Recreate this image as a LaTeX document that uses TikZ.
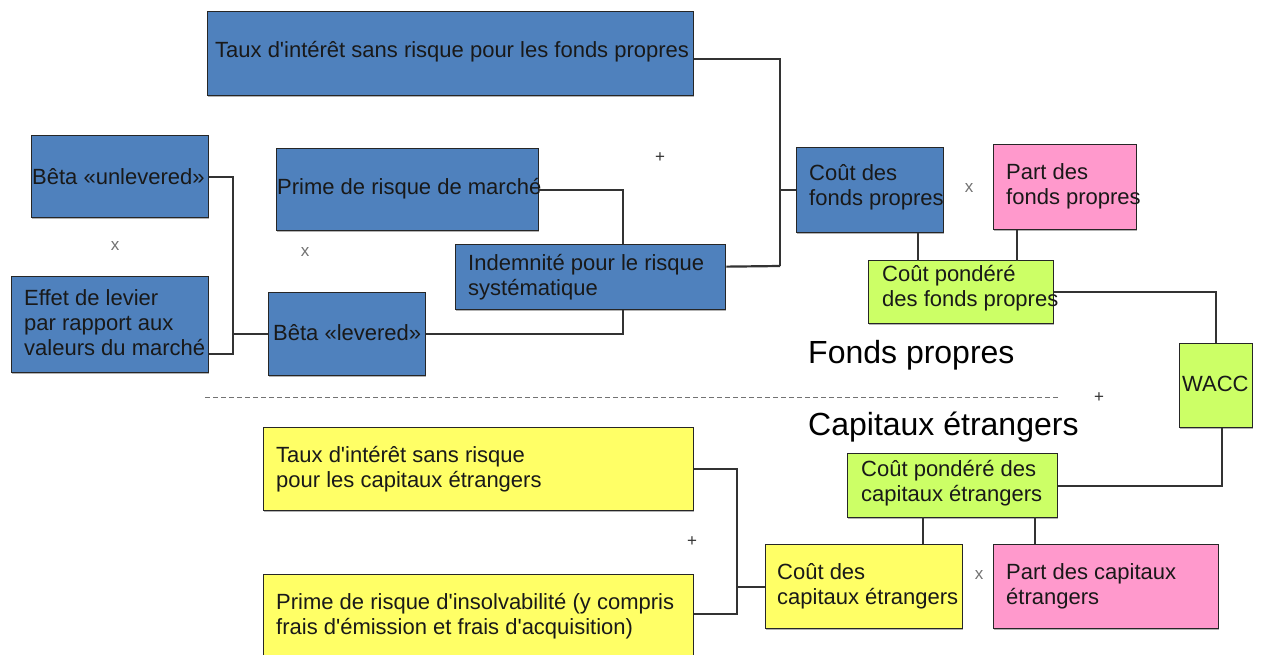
\documentclass[tikz,border=0pt]{standalone}
\usepackage{fontspec}
\setmainfont{Liberation Sans}
\usetikzlibrary{calc,shadows}
\definecolor{bblue}{HTML}{4F81BD}
\definecolor{bpink}{HTML}{FF99CC}
\definecolor{byellow}{HTML}{FFFF66}
\definecolor{bgreen}{HTML}{CCFF66}
\begin{document}
\begin{tikzpicture}[x=1pt,y=-1pt,
 box/.style={draw=black!85,line width=1.3pt,anchor=north west,inner sep=0pt,
   drop shadow={shadow xshift=0.8pt,shadow yshift=-1.5pt,fill=black!60}},
 txt/.style={anchor=west,inner sep=0pt,align=left,font=\fontsize{22}{25}\selectfont,text=black!90},
 conn/.style={draw=black!80,line width=2.2pt},
 op/.style={font=\fontsize{17}{17}\selectfont,text=black!55,inner sep=0pt},
 head/.style={font=\fontsize{32}{34}\selectfont,anchor=west,inner sep=0pt,text=black}]
\useasboundingbox[fill=white] (0,0) rectangle (1261,655);

% boxes
\node[box,fill=bblue,minimum width=486pt,minimum height=84pt] (tfp) at (207,11) {};
\node[box,fill=bblue,minimum width=177pt,minimum height=82pt] (bu) at (31,135) {};
\node[box,fill=bblue,minimum width=197pt,minimum height=96pt] (eff) at (11,276) {};
\node[box,fill=bblue,minimum width=262pt,minimum height=82pt] (pm) at (276,148) {};
\node[box,fill=bblue,minimum width=270pt,minimum height=65pt] (ind) at (455,244) {};
\node[box,fill=bblue,minimum width=157pt,minimum height=83pt] (bl) at (268,292) {};
\node[box,fill=bblue,minimum width=147pt,minimum height=85pt] (cfp) at (796,147) {};
\node[box,fill=bpink,minimum width=143pt,minimum height=85pt] (pfp) at (993,144) {};
\node[box,fill=bgreen,minimum width=185pt,minimum height=63pt] (pwf) at (868,260) {};
\node[box,fill=bgreen,minimum width=73pt,minimum height=84pt] (wacc) at (1179,343) {};
\node[box,fill=bgreen,minimum width=210pt,minimum height=64pt] (pce) at (847,453) {};
\node[box,fill=byellow,minimum width=430pt,minimum height=83pt] (tce) at (263,427) {};
\node[box,fill=byellow,minimum width=430pt,minimum height=90pt] (pri) at (263,574) {};
\node[box,fill=byellow,minimum width=197pt,minimum height=84pt] (cce) at (765,544) {};
\node[box,fill=bpink,minimum width=225pt,minimum height=84pt] (pce2) at (993,544) {};

% texts
\node[txt] (tfp-t) at (215,52) {Taux d\textquotesingle intérêt sans risque pour les fonds propres};
\node[txt] (bu-t) at (32,177) {Bêta «unlevered»};
\node[txt] (eff-t) at (24,323) {Effet de levier\\par rapport aux\\valeurs du marché};
\node[txt] (pm-t) at (277,189) {Prime de risque de marché};
\node[txt] (ind-t) at (468,277) {Indemnité pour le risque\\systématique};
\node[txt] (bl-t) at (273,333) {Bêta «levered»};
\node[txt] (cfp-t) at (809,187) {Coût des\\fonds propres};
\node[txt] (pfp-t) at (1006,186) {Part des\\fonds propres};
\node[txt] (pwf-t) at (882,288) {Coût pondéré\\des fonds propres};
\node[txt] (wacc-t) at (1182,384) {WACC};
\node[txt] (pce-t) at (861,483) {Coût pondéré des\\capitaux étrangers};
\node[txt] (tce-t) at (276,469) {Taux d\textquotesingle intérêt sans risque\\pour les capitaux étrangers};
\node[txt] (pri-t) at (276,616) {Prime de risque d\textquotesingle insolvabilité (y compris\\frais d\textquotesingle émission et frais d\textquotesingle acquisition)};
\node[txt] (cce-t) at (777,586) {Coût des\\capitaux étrangers};
\node[txt] (pce2-t) at (1006,586) {Part des capitaux\\étrangers};

% operators and headings
\node[op] (x1) at (115,246) {x};
\node[op] (x2) at (305,252) {x};
\node[op,text=black!80] (p1) at (660,158) {+};
\node[op] (x3) at (969,188) {x};
\node[op,text=black!80] (p2) at (1099,398) {+};
\node[op,text=black!80] (p3) at (692,542) {+};
\node[op] (x4) at (979,575) {x};
\node[head] (hfp) at (808,355) {Fonds propres};
\node[head] (hce) at (808,427) {Capitaux étrangers};

% separator
\draw[black!55,line width=0.8pt,dash pattern=on 5pt off 3pt] (205,397) -- (1060,397);

% connectors
\draw[conn] (bu.east) -- ++(24,0) |- ($(eff.east)+(0,29)$);
\draw[conn] (bl.west) -- ++(-34,0);
\draw[conn] (bl.east) -| ($(ind.south)+(32,0)$);
\draw[conn] (pm.east) -| ($(ind.north)+(32,0)$);
\coordinate (busB) at (780,266);
\draw[conn] ($(tfp.east)+(0,5)$) -| (busB);
\draw[conn] ($(ind.east)+(0,-10.5)$) -- (busB);
\draw[conn] (cfp.west) -- (cfp.west -| busB);
\draw[conn] ($(cfp.south)+(47.5,0)$) -- ++(0,28);
\draw[conn] ($(pfp.south)+(-48.5,0)$) -- ++(0,31);
\draw[conn] (pwf.east) -| (wacc.north);
\draw[conn] ($(wacc.south)+(6,0)$) |- (pce.east);
\draw[conn] ($(cce.north)+(58.5,0)$) -- ++(0,-27);
\draw[conn] ($(pce2.north)+(-71.5,0)$) -- ++(0,-27);
\draw[conn] (tce.east) -- ++(43,0) |- ($(pri.east)+(0,-6)$);
\draw[conn] (cce.west) -- ++(-29,0);
\end{tikzpicture}
\end{document}
